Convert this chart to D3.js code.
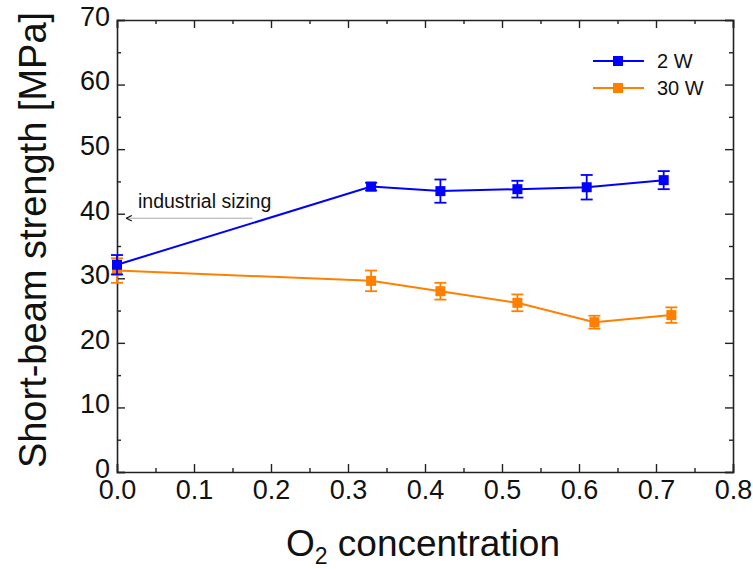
<!DOCTYPE html>
<html>
<head>
<meta charset="utf-8">
<script src="https://cdn.jsdelivr.net/npm/d3@7"></script>
<style>
  body { margin: 0; background: #fff; }
  .tick text { font-family: "Liberation Sans", Arial, sans-serif; font-size: 27px; fill: #111; }
  .axis path, .axis line { stroke: #222; }
</style>
</head>
<body>
<svg id="chart" width="753" height="569"></svg>
<script>
// data
var seriesNames = ["2 W", "30 W"];
var xBlue = [0, 0.33, 0.42, 0.52, 0.61, 0.71];
var yBlue = [32.1, 44.2, 43.5, 43.8, 44.1, 45.2];
var eBlue = [1.5, 0.6, 1.8, 1.3, 1.9, 1.4];
var xOrange = [0, 0.33, 0.42, 0.52, 0.62, 0.72];
var yOrange = [31.2, 29.6, 28.0, 26.2, 23.2, 24.3];
var eOrange = [1.9, 1.6, 1.3, 1.3, 1.0, 1.2];
var xTicks = [0, 0.1, 0.2, 0.3, 0.4, 0.5, 0.6, 0.7, 0.8];
var yTicks = [0, 10, 20, 30, 40, 50, 60, 70];
var annotation = {text: "industrial sizing", y: 39.3, x0: 0.176, x1: 0.012};

var margin = {top: 20, right: 20, bottom: 97, left: 117},
    width = 733 - margin.left,
    height = 472 - margin.top;

var svg = d3.select("#chart")
  .append("g")
    .attr("transform", "translate(" + margin.left + "," + margin.top + ")");

var x = d3.scaleLinear().domain([0, 0.8]).range([0, width]);
var y = d3.scaleLinear().domain([0, 70]).range([height, 0]);

var xMinor = d3.range(0.05, 0.8, 0.1);
var yMinor = d3.range(5, 70, 10);

// axes: major + minor ticks, all pointing inward, mirrored on top/right
function drawAxis(gen, scale, major, minor, tr, labels, pad) {
  var g = svg.append("g").attr("class", "axis").attr("transform", tr);
  g.call(gen(scale).tickValues(major).tickSize(-8).tickPadding(pad || 0)
      .tickFormat(labels ? labels : ""));
  g.select(".domain").attr("stroke-width", 1.6);
  g.selectAll(".tick line").attr("stroke-width", 1.4);
  var m = svg.append("g").attr("class", "axis").attr("transform", tr);
  m.call(gen(scale).tickValues(minor).tickSize(-4).tickFormat(""));
  m.select(".domain").remove();
  m.selectAll(".tick line").attr("stroke-width", 1.4);
  return g;
}

drawAxis(d3.axisBottom, x, xTicks, xMinor, "translate(0," + height + ")", d3.format(".1f"), 8);
drawAxis(d3.axisTop, x, xTicks, xMinor, "translate(0,0)", null);
var yAx = drawAxis(d3.axisLeft, y, yTicks, yMinor, "translate(0,0)", d3.format("d"), 7);
yAx.selectAll(".tick text").attr("dy", "0.2em");

// axis titles
svg.append("text")
  .attr("x", x(0.4) - 2)
  .attr("y", 556 - margin.top)
  .attr("text-anchor", "middle")
  .style("font-family", "Liberation Sans, Arial, sans-serif")
  .style("font-size", "37px")
  .style("fill", "#111")
  .html('O<tspan dy="8" font-size="23px">2</tspan><tspan dy="-8"> concentration</tspan>');

svg.append("text")
  .attr("transform", "translate(" + (46 - margin.left) + "," + (y(35) - 6) + ") rotate(-90)")
  .attr("text-anchor", "middle")
  .style("font-family", "Liberation Sans, Arial, sans-serif")
  .style("font-size", "38px")
  .style("fill", "#111")
  .text("Short-beam strength [MPa]");

drawAxis(d3.axisRight, y, yTicks, yMinor, "translate(" + width + ",0)", null);

// series
var series = [
  {name: seriesNames[1], color: "#ff8000", xs: xOrange, ys: yOrange, es: eOrange},
  {name: seriesNames[0], color: "#0000ff", xs: xBlue, ys: yBlue, es: eBlue}
];

var line = d3.line()
  .x(function(d) { return x(d.x); })
  .y(function(d) { return y(d.y); });

series.forEach(function(s) {
  var pts = s.xs.map(function(v, i) { return {x: v, y: s.ys[i], e: s.es[i]}; });
  var g = svg.append("g");
  g.append("path")
    .datum(pts)
    .attr("fill", "none")
    .attr("stroke", s.color)
    .attr("stroke-width", 2)
    .attr("d", line);

  var eb = g.selectAll(".err").data(pts).enter().append("g")
    .attr("stroke", s.color)
    .attr("stroke-width", 1.8);
  eb.append("line")
    .attr("x1", function(d) { return x(d.x); })
    .attr("x2", function(d) { return x(d.x); })
    .attr("y1", function(d) { return y(d.y + d.e); })
    .attr("y2", function(d) { return y(d.y - d.e); });
  [1, -1].forEach(function(sg) {
    eb.append("line")
      .attr("x1", function(d) { return x(d.x) - 6; })
      .attr("x2", function(d) { return x(d.x) + 6; })
      .attr("y1", function(d) { return y(d.y + sg * d.e); })
      .attr("y2", function(d) { return y(d.y + sg * d.e); });
  });

  g.selectAll(".pt").data(pts).enter().append("rect")
    .attr("x", function(d) { return x(d.x) - 5; })
    .attr("y", function(d) { return y(d.y) - 5; })
    .attr("width", 10)
    .attr("height", 10)
    .attr("fill", s.color);
});

// legend
var legend = svg.append("g").attr("transform", "translate(" + (593 - margin.left) + "," + (61 - margin.top) + ")");
[series[1], series[0]].forEach(function(s, i) {
  var row = legend.append("g").attr("transform", "translate(0," + (i * 27) + ")");
  row.append("line").attr("x1", 0).attr("x2", 51).attr("stroke", s.color).attr("stroke-width", 2);
  row.append("rect").attr("x", 20).attr("y", -5).attr("width", 10).attr("height", 10).attr("fill", s.color);
  row.append("text")
    .attr("x", 64).attr("y", 7)
    .style("font-family", "Liberation Sans, Arial, sans-serif")
    .style("font-size", "20px")
    .style("fill", "#111")
    .text(s.name);
});

// annotation with arrow
svg.append("defs").append("marker")
  .attr("id", "arrowHead")
  .attr("viewBox", "0 0 10 10")
  .attr("refX", 9).attr("refY", 5)
  .attr("markerWidth", 7).attr("markerHeight", 7)
  .attr("markerUnits", "userSpaceOnUse")
  .attr("orient", "auto")
  .append("path")
    .attr("d", "M1,1 L9,5 L1,9")
    .attr("fill", "none")
    .attr("stroke", "#111")
    .attr("stroke-width", 1.6);

svg.append("line")
  .attr("x1", x(annotation.x0)).attr("x2", x(annotation.x1))
  .attr("y1", y(annotation.y)).attr("y2", y(annotation.y))
  .attr("stroke", "#aaa")
  .attr("stroke-width", 1)
  .attr("marker-end", "url(#arrowHead)");

svg.append("text")
  .attr("x", 138 - margin.left)
  .attr("y", 208 - margin.top)
  .style("font-family", "Liberation Sans, Arial, sans-serif")
  .style("font-size", "19.5px")
  .style("fill", "#111")
  .text(annotation.text);
</script>
</body>
</html>
